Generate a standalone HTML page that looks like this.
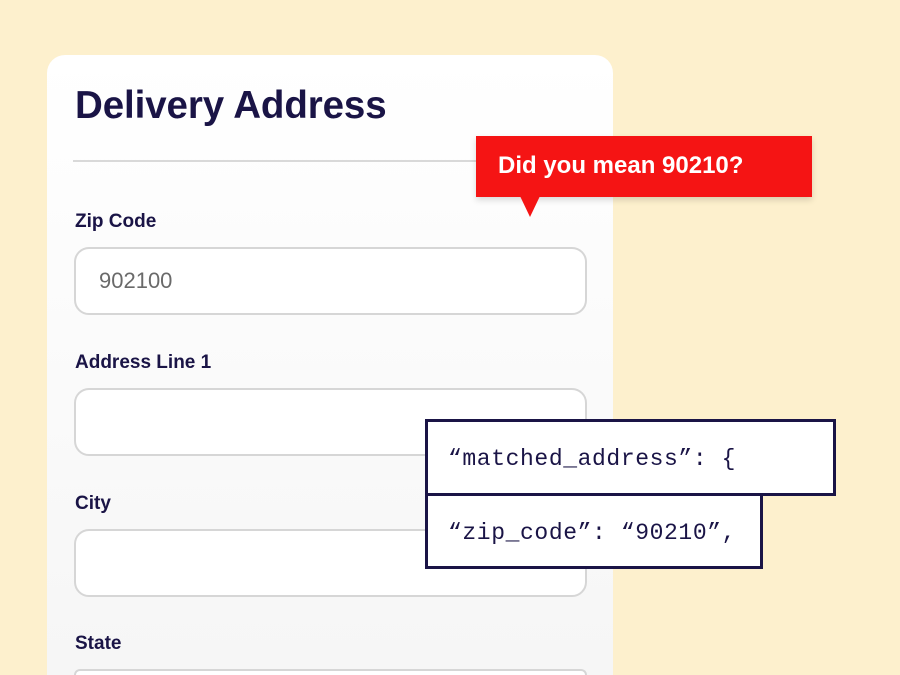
<!DOCTYPE html>
<html style="height:675px;overflow:hidden"><head><style>
body{margin:0;width:900px;height:675px;background:#fdf0cd;position:relative;overflow:hidden;font-family:"Liberation Sans",sans-serif;color:#1a1446}
.card{position:absolute;left:47px;top:55px;width:566px;height:620px;border-radius:18px 18px 0 0;background:linear-gradient(#ffffff,#f6f6f6);overflow:hidden}
.t{position:absolute;left:75px;top:84px;font-size:38.5px;font-weight:bold;letter-spacing:-0.1px}
.hr{position:absolute;left:73px;top:160px;width:514px;height:2px;background:#d9d9d9}
.lab{position:absolute;left:75px;font-size:19px;font-weight:bold}
.inp{position:absolute;left:74px;width:509px;height:64px;border:2px solid #d6d6d6;border-radius:15px;background:#fff}
.tip{position:absolute;left:476px;top:136px;width:336px;height:61px;background:#f51414;color:#fff;font-size:24px;font-weight:bold;box-shadow:0 3px 6px rgba(0,0,0,0.15)}
.tip span{position:absolute;left:22px;top:16px}
.ptr{position:absolute;left:520px;top:196px;width:0;height:0;border-left:10px solid transparent;border-right:10px solid transparent;border-top:21px solid #f51414}
.j{position:absolute;background:#fff;border:3px solid #1a1446;font-family:"Liberation Mono",monospace;font-size:23px;letter-spacing:0.6px;box-sizing:border-box}
.j span{position:absolute;left:20px;top:24px}
</style></head><body>
<div class="card">
<div style="position:absolute;left:27px;top:614px;width:509px;height:4px;border:2px solid #d6d6d6;border-bottom:0;border-radius:15px 15px 0 0;background:#fff"></div>
</div>
<div class="t">Delivery Address</div>
<div class="hr"></div>
<div class="lab" style="top:211px">Zip Code</div>
<div class="inp" style="top:247px"><span style="position:absolute;left:23px;top:19px;font-size:22px;color:#6a6a6a">902100</span></div>
<div class="lab" style="top:352px">Address Line 1</div>
<div class="inp" style="top:388px"></div>
<div class="lab" style="top:493px">City</div>
<div class="inp" style="top:529px"></div>
<div class="lab" style="top:633px">State</div>
<div class="tip"><span>Did you mean 90210?</span></div>
<div class="ptr"></div>
<div class="j" style="left:425px;top:419px;width:411px;height:77px"><span>“matched_address”: {</span></div>
<div class="j" style="left:425px;top:493px;width:338px;height:76px"><span>“zip_code”: “90210”,</span></div>
</body></html>
